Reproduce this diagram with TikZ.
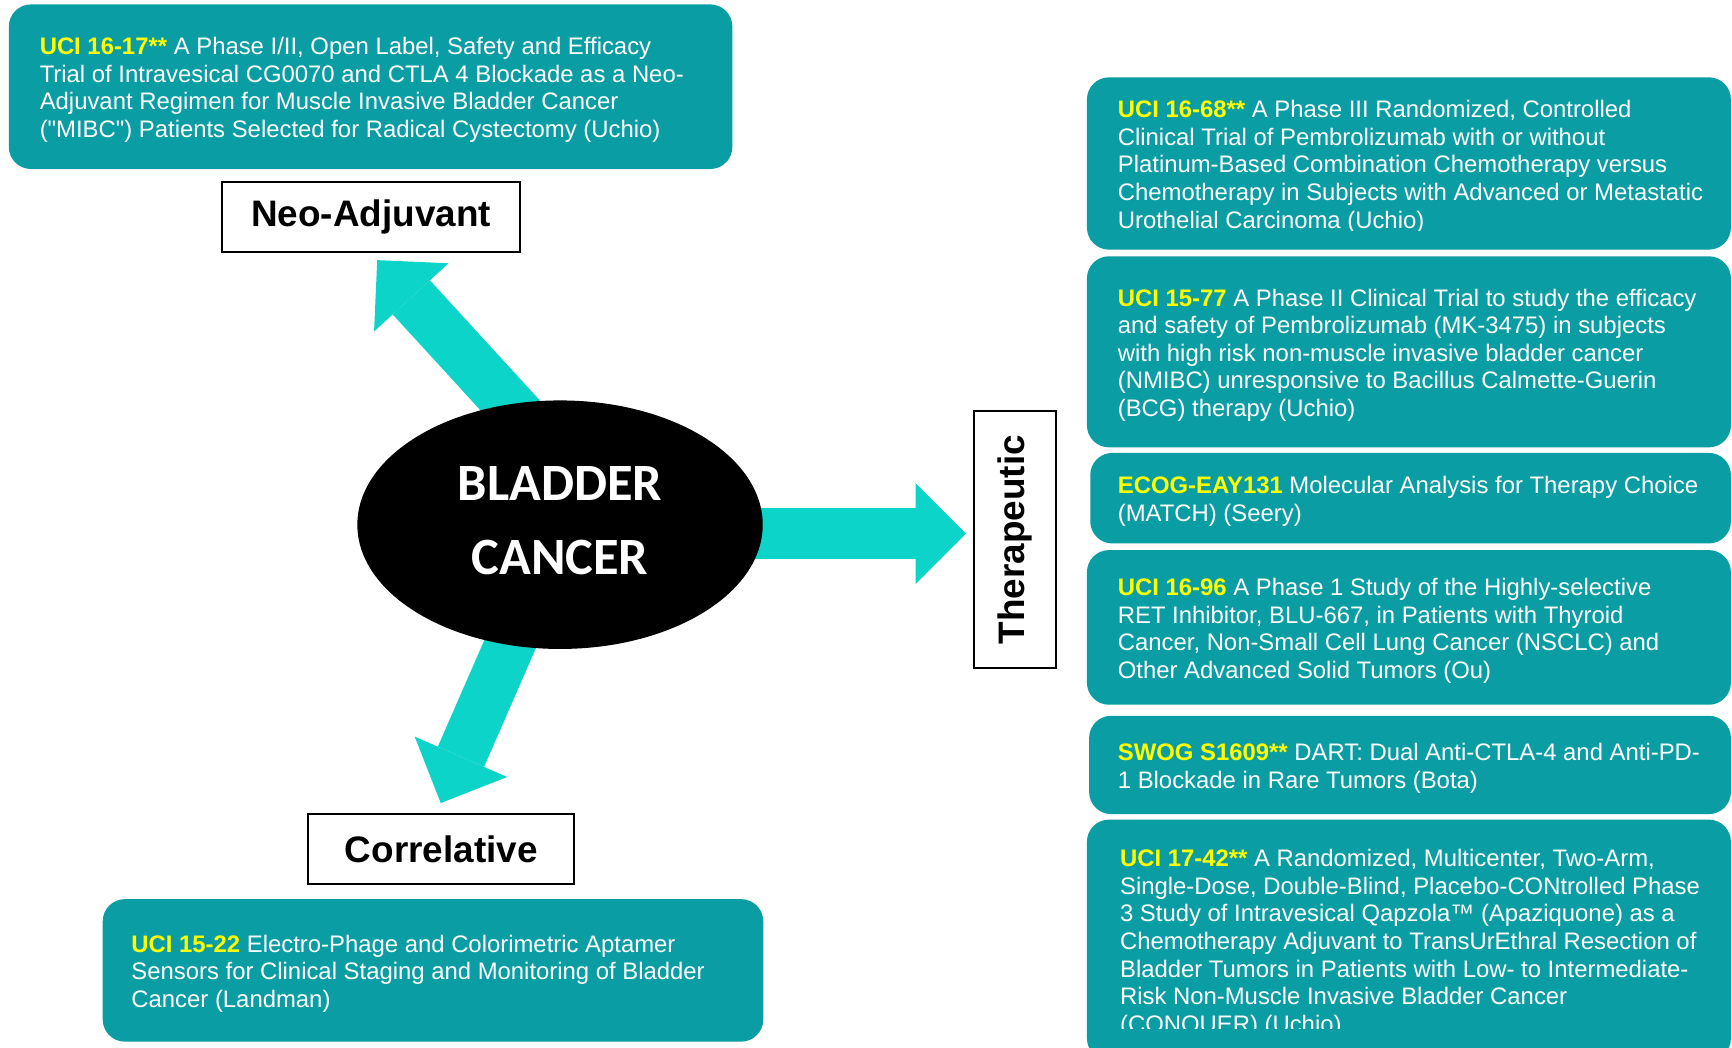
\documentclass[tikz,border=0pt]{standalone}
\usepackage{fontspec}
\setmainfont{Liberation Sans}[Ligatures=TeXOff]
\newfontfamily\carlito{Carlito}
\usepackage{xcolor}
\usetikzlibrary{shapes.geometric, arrows.meta, positioning, backgrounds}

\definecolor{boxteal}{RGB}{10,157,164}
\definecolor{arrowcyan}{RGB}{12,212,201}
\definecolor{idyellow}{RGB}{255,255,0}
\newcommand{\trialid}[1]{\textcolor{idyellow}{\textbf{#1}}}

\begin{document}
\begin{tikzpicture}[
  trialbox/.style={fill=boxteal, rounded corners=0.4cm},
  trialtxt/.style={inner sep=0pt, align=left, text=white, yshift=-0.06cm,
                   font=\fontsize{12.3}{14.2}\selectfont},
  catbox/.style={draw, line width=1pt, fill=white, minimum height=1.26cm,
                 font=\fontsize{19}{22}\selectfont\bfseries},
  hubnode/.style={ellipse, fill=black, text=white, align=center,
                  minimum width=7.34cm, minimum height=4.5cm, text depth=0.16cm,
                  font=\carlito\fontsize{27}{38}\selectfont\bfseries},
  bigarrow/.style={arrowcyan, line width=26pt,
                   -{Triangle[length=26pt, width=52pt, line width=0pt]}},
]

\useasboundingbox (0,0) rectangle (31.36,-18.96);
\clip (0,0) rectangle (31.36,-18.96);

%% ── Centre ────────────────────────────────────────────────────────────────
\node[hubnode] (bc) at (10.14,-9.5) {BLADDER\\CANCER};

%% ── Category labels ───────────────────────────────────────────────────────
\node[catbox, minimum width=5.4cm]  (neo)   at (6.72,-3.93)  {Neo-Adjuvant};
\node[catbox, minimum width=4.82cm] (corr)  at (7.99,-15.37) {Correlative};
\node[catbox, rotate=90, minimum width=4.66cm, minimum height=1.48cm]
  (thera) at (18.38,-9.77) {Therapeutic};

%% ── Block arrows (under the ellipse) ──────────────────────────────────────
\coordinate (neobase)   at (10.07,-8.25);
\coordinate (neotip)    at (6.83,-4.71);
\coordinate (therabase) at (12.0,-9.66);
\coordinate (theratip)  at (17.49,-9.66);
\coordinate (corrbase)  at (9.98,-9.96);
\coordinate (corrtip)   at (7.98,-14.54);
\begin{scope}[on background layer]
  \draw[bigarrow] (neobase)   -- (neotip);
  \draw[bigarrow] (therabase) -- (theratip);
  \draw[bigarrow] (corrbase)  -- (corrtip);
\end{scope}

%% ── Neo-adjuvant trial ────────────────────────────────────────────────────
\node[trialbox, minimum width=13.1cm, minimum height=2.98cm] (na) at (6.71,-1.57) {};
\node[trialtxt, right=0.56cm of na.west] (natxt) {%
  \trialid{UCI 16-17**} A Phase I/II, Open Label, Safety and Efficacy\\
  Trial of Intravesical CG0070 and CTLA 4 Blockade as a Neo-\\
  Adjuvant Regimen for Muscle Invasive Bladder Cancer\\
  ("MIBC") Patients Selected for Radical Cystectomy (Uchio)};

%% ── Correlative trial ─────────────────────────────────────────────────────
\node[trialbox, minimum width=11.96cm, minimum height=2.58cm] (co) at (7.84,-17.57) {};
\node[trialtxt, right=0.52cm of co.west] (cotxt) {%
  \trialid{UCI 15-22} Electro-Phage and Colorimetric Aptamer\\
  Sensors for Clinical Staging and Monitoring of Bladder\\
  Cancer (Landman)};

%% ── Therapeutic trials (right column) ─────────────────────────────────────
\node[trialbox, minimum width=11.66cm, minimum height=3.12cm] (th1) at (25.51,-2.96) {};
\begin{scope}
  \clip (th1.north west) rectangle (31.36,-4.17);
  \node[trialtxt, right=0.56cm of th1.west] (th1txt) {%
    \trialid{UCI 16-68**} A Phase III Randomized, Controlled\\
    Clinical Trial of Pembrolizumab with or without\\
    Platinum-Based Combination Chemotherapy versus\\
    Chemotherapy in Subjects with Advanced or Metastatic\\
    Urothelial Carcinoma (Uchio)};
\end{scope}

\node[trialbox, minimum width=11.66cm, minimum height=3.46cm] (th2) at (25.51,-6.37) {};
\node[trialtxt, right=0.56cm of th2.west] (th2txt) {%
  \trialid{UCI 15-77} A Phase II Clinical Trial to study the efficacy\\
  and safety of Pembrolizumab (MK-3475) in subjects\\
  with high risk non-muscle invasive bladder cancer\\
  (NMIBC) unresponsive to Bacillus Calmette-Guerin\\
  (BCG) therapy (Uchio)};

\node[trialbox, minimum width=11.6cm, minimum height=1.64cm] (th3) at (25.54,-9.02) {};
\node[trialtxt, right=0.5cm of th3.west] (th3txt) {%
  \trialid{ECOG-EAY131} Molecular Analysis for Therapy Choice\\
  (MATCH) (Seery)};

\node[trialbox, minimum width=11.66cm, minimum height=2.8cm] (th4) at (25.51,-11.36) {};
\node[trialtxt, right=0.56cm of th4.west] (th4txt) {%
  \trialid{UCI 16-96} A Phase 1 Study of the Highly-selective\\
  RET Inhibitor, BLU-667, in Patients with Thyroid\\
  Cancer, Non-Small Cell Lung Cancer (NSCLC) and\\
  Other Advanced Solid Tumors (Ou)};

\node[trialbox, minimum width=11.62cm, minimum height=1.78cm] (th5) at (25.53,-13.85) {};
\node[trialtxt, right=0.52cm of th5.west] (th5txt) {%
  \trialid{SWOG S1609**} DART: Dual Anti-CTLA-4 and Anti-PD-\\
  1 Blockade in Rare Tumors (Bota)};

\node[trialbox, minimum width=11.66cm, minimum height=4.36cm] (th6) at (25.51,-17.02) {};
\begin{scope}
  \clip (th6.north west) rectangle (31.36,-18.62);
  \node[trialtxt, right=0.6cm of th6.west] (th6txt) {%
    \trialid{UCI 17-42**} A Randomized, Multicenter, Two-Arm,\\
    Single-Dose, Double-Blind, Placebo-CONtrolled Phase\\
    3 Study of Intravesical Qapzola™ (Apaziquone) as a\\
    Chemotherapy Adjuvant to TransUrEthral Resection of\\
    Bladder Tumors in Patients with Low- to Intermediate-\\
    Risk Non-Muscle Invasive Bladder Cancer\\
    (CONQUER) (Uchio)};
\end{scope}

\end{tikzpicture}
\end{document}
